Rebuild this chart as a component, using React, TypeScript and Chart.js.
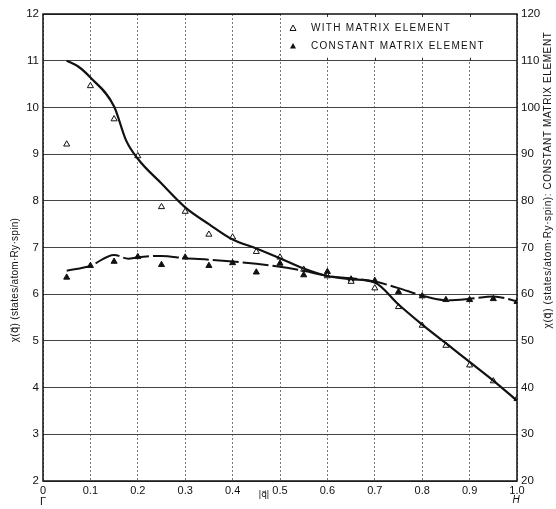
import React, { useEffect, useRef } from "react";
import { Chart, registerables } from "chart.js";

Chart.register(...registerables);

const qValues = [0.05, 0.1, 0.15, 0.2, 0.25, 0.3, 0.35, 0.4, 0.45, 0.5, 0.55, 0.6, 0.65, 0.7, 0.75, 0.8, 0.85, 0.9, 0.95, 1.0];
const withMatrix = [9.21, 10.46, 9.75, 8.96, 7.87, 7.77, 7.28, 7.22, 6.91, 6.79, 6.53, 6.39, 6.27, 6.13, 5.73, 5.33, 4.9, 4.48, 4.14, 3.76];
const constMatrix = [63.6, 66.1, 67.0, 68.0, 66.3, 67.9, 66.1, 66.7, 64.7, 66.6, 64.1, 64.8, 63.2, 62.9, 60.5, 59.6, 58.8, 58.8, 59.0, 58.4];

const curve1X = [0.05, 0.075, 0.1, 0.15, 0.175, 0.2, 0.25, 0.3, 0.35, 0.4, 0.45, 0.5, 0.55, 0.6, 0.65, 0.7, 0.75, 0.8, 0.85, 0.9, 0.95, 1.0];
const curve1Y = [11.0, 10.87, 10.64, 10.02, 9.3, 8.9, 8.37, 7.86, 7.5, 7.17, 6.98, 6.77, 6.55, 6.39, 6.32, 6.25, 5.78, 5.35, 4.95, 4.55, 4.15, 3.72];

const curve2X = [0.05, 0.1, 0.15, 0.18, 0.2, 0.25, 0.3, 0.35, 0.4, 0.45, 0.5, 0.55, 0.6, 0.65, 0.7, 0.75, 0.8, 0.85, 0.9, 0.95, 1.0];
const curve2Y = [65.0, 66.1, 68.4, 67.6, 67.9, 68.2, 67.7, 67.4, 67.0, 66.5, 65.9, 65.0, 63.9, 63.4, 62.7, 61.3, 59.7, 58.7, 59.0, 59.5, 58.5];

const leftTitle = "χ(q⃗) (states/atom·Ry·spin)";
const rightTitle = "χ(q⃗) (states/atom·Ry·spin): CONSTANT MATRIX ELEMENT";
const legendLabels = ["WITH MATRIX ELEMENT", "CONSTANT MATRIX ELEMENT"];

const FONT = "'Liberation Sans', 'DejaVu Sans', sans-serif";

const overlayPlugin = {
  id: "overlay",
  beforeDatasetsDraw(chart: any) {
    const { ctx, chartArea } = chart;
    const x = chart.scales.x;
    const y = chart.scales.y;
    const x0 = x.getPixelForValue(0.5);
    const y11 = y.getPixelForValue(11);
    ctx.save();
    ctx.fillStyle = "#ffffff";
    ctx.fillRect(x0 + 1, chartArea.top, chartArea.right - x0 - 1, y11 - chartArea.top - 1);
    ctx.strokeStyle = "#333";
    ctx.lineWidth = 1;
    for (let v = 0.6; v < 0.95; v += 0.1) {
      const px = Math.round(x.getPixelForValue(v)) + 0.5;
      ctx.beginPath();
      ctx.moveTo(px, chartArea.top);
      ctx.lineTo(px, chartArea.top + 3);
      ctx.moveTo(px, y11 - 3);
      ctx.lineTo(px, y11);
      ctx.stroke();
    }
    ctx.restore();
  },
  afterDraw(chart: any) {
    const { ctx, chartArea } = chart;
    const x = chart.scales.x;
    ctx.save();
    ctx.strokeStyle = "#111";
    ctx.lineWidth = 1.5;
    ctx.strokeRect(chartArea.left, chartArea.top, chartArea.right - chartArea.left, chartArea.bottom - chartArea.top);

    // legend
    ctx.font = `10px ${FONT}`;
    ctx.fillStyle = "#111";
    ctx.textBaseline = "middle";
    ctx.textAlign = "left";
    (ctx as any).letterSpacing = "1.3px";
    const lx = x.getPixelForValue(0.5) + 13;
    const ly = [28, 46];
    const tri = (cx: number, cy: number, filled: boolean) => {
      ctx.beginPath();
      ctx.moveTo(cx, cy - 3);
      ctx.lineTo(cx + 3, cy + 2.5);
      ctx.lineTo(cx - 3, cy + 2.5);
      ctx.closePath();
      if (filled) {
        ctx.fill();
      } else {
        ctx.lineWidth = 1;
        ctx.stroke();
      }
    };
    ctx.strokeStyle = "#111";
    tri(lx, ly[0], false);
    tri(lx, ly[1], true);
    ctx.fillText(legendLabels[0], lx + 18, ly[0]);
    ctx.fillText(legendLabels[1], lx + 18, ly[1]);
    (ctx as any).letterSpacing = "0px";

    // axis titles
    ctx.font = `10px ${FONT}`;
    ctx.textAlign = "center";
    ctx.save();
    ctx.translate(15, 280);
    ctx.rotate(-Math.PI / 2);
    (ctx as any).letterSpacing = "0.3px";
    ctx.fillText(leftTitle, 0, 0);
    ctx.restore();
    ctx.save();
    ctx.translate(548, 180);
    ctx.rotate(-Math.PI / 2);
    (ctx as any).letterSpacing = "0.6px";
    ctx.fillText(rightTitle, 0, 0);
    ctx.restore();

    // bottom labels
    ctx.font = `11px ${FONT}`;
    ctx.fillText("Γ", x.getPixelForValue(0), 502);
    ctx.font = `italic 10px ${FONT}`;
    ctx.fillText("H", x.getPixelForValue(1.0) - 1, 500);
    ctx.font = `9px ${FONT}`;
    ctx.fillText("|q⃗|", 264, 495);
    ctx.restore();
  },
};

export default function App() {
  const ref = useRef<HTMLCanvasElement | null>(null);
  useEffect(() => {
    document.body.style.margin = "0";
    if (!ref.current) return;
    const chart = new Chart(ref.current, {
      type: "scatter",
      data: {
        datasets: [
          {
            label: "curve1",
            data: curve1X.map((q, i) => ({ x: q, y: curve1Y[i] })),
            showLine: true,
            borderColor: "#111",
            borderWidth: 2.2,
            pointRadius: 0,
            cubicInterpolationMode: "monotone",
            yAxisID: "y",
          },
          {
            label: "curve2",
            data: curve2X.map((q, i) => ({ x: q, y: curve2Y[i] })),
            showLine: true,
            borderColor: "#111",
            borderWidth: 2,
            borderDash: [26, 4],
            pointRadius: 0,
            cubicInterpolationMode: "monotone",
            yAxisID: "y2",
          },
          {
            label: legendLabels[0],
            data: qValues.map((q, i) => ({ x: q, y: withMatrix[i] })),
            showLine: false,
            pointStyle: "triangle",
            pointRadius: 3.5,
            pointBackgroundColor: "#ffffff",
            pointBorderColor: "#111",
            pointBorderWidth: 1,
            yAxisID: "y",
          },
          {
            label: legendLabels[1],
            data: qValues.map((q, i) => ({ x: q, y: constMatrix[i] })),
            showLine: false,
            pointStyle: "triangle",
            pointRadius: 3.5,
            pointBackgroundColor: "#111",
            pointBorderColor: "#111",
            pointBorderWidth: 1,
            yAxisID: "y2",
          },
        ],
      },
      options: {
        animation: false,
        responsive: false,
        maintainAspectRatio: false,
        layout: { padding: { top: 14, left: 0, right: 0, bottom: 0 } },
        plugins: { legend: { display: false }, tooltip: { enabled: false } },
        scales: {
          x: {
            type: "linear",
            min: 0,
            max: 1,
            ticks: {
              stepSize: 0.1,
              color: "#111",
              font: { family: FONT, size: 11 },
              padding: 3,
              callback: (v: any) => (Number(v) === 0 ? "0" : Number(v).toFixed(1)),
            },
            grid: { color: "#555", lineWidth: 0.8, drawTicks: false },
            border: { display: false, dash: [2, 2] },
            afterFit: (s: any) => { s.height = 28; },
          },
          y: {
            position: "left",
            min: 2,
            max: 12,
            ticks: { stepSize: 1, color: "#111", font: { family: FONT, size: 11.5 }, padding: 4 },
            grid: { color: "#444", lineWidth: 1, drawTicks: false },
            border: { display: false },
            afterFit: (s: any) => { s.width = 43; },
          },
          y2: {
            position: "right",
            min: 20,
            max: 120,
            ticks: { stepSize: 10, color: "#111", font: { family: FONT, size: 11.5 }, padding: 4 },
            grid: { display: false, drawTicks: false },
            border: { display: false },
            afterFit: (s: any) => { s.width = 39; },
          },
        },
      },
      plugins: [overlayPlugin],
    } as any);
    return () => chart.destroy();
  }, []);
  return <canvas ref={ref} width={556} height={509} style={{ display: "block", width: 556, height: 509 }} />;
}
